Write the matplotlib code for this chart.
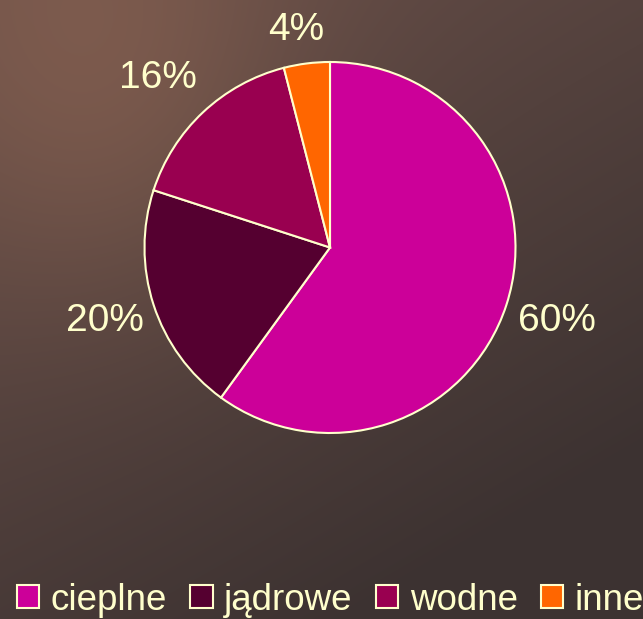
import numpy as np
import matplotlib.pyplot as plt
from matplotlib.colors import to_rgb

# udział źródeł energii elektrycznej
labels = ['cieplne', 'jądrowe', 'wodne', 'inne']
shares = [60, 20, 16, 4]
colors = ['#CC0099', '#550030', '#990050', '#FF6600']
pct_text = ['60%', '20%', '16%', '4%']

W, H = 643, 619
fig = plt.figure(figsize=(W / 100, H / 100), dpi=100)

# tło - ciemnobrązowy gradient z cieplejszą plamą w lewym górnym rogu
bg = fig.add_axes([0, 0, 1, 1], zorder=0)
yy, xx = np.mgrid[0:H, 0:W]
t = np.clip((xx / W * 0.45 + yy / H * 0.75), 0, 1)[..., None]
c0 = np.array(to_rgb('#6a5049'))
c1 = np.array(to_rgb('#3c3231'))
img = c0 * (1 - t) + c1 * t
blob = np.exp(-(((xx - 90) / 190.0) ** 2 + ((yy - 40) / 240.0) ** 2))[..., None]
img = img * (1 - 0.7 * blob) + np.array(to_rgb('#866050')) * 0.7 * blob
bg.imshow(img, extent=[0, W, H, 0], aspect='auto')
bg.axis('off')

# wykres kołowy
cx, cy, r = 330, 247.5, 185.5
ax = fig.add_axes([(cx - r) / W, 1 - (cy + r) / H, 2 * r / W, 2 * r / H], zorder=1)
wedges, _ = ax.pie(shares, colors=colors, startangle=90, counterclock=False,
                   wedgeprops=dict(edgecolor='#FFFFCC', linewidth=1.5))
ax.set_xlim(-1, 1)
ax.set_ylim(-1, 1)
ax.axis('off')

txt_kw = dict(color='#FFFFCC', fontsize=28, family='Liberation Sans')
label_pos = [(557, 321), (105, 321), (158, 78), (296, 30)]
for (px, py), s in zip(label_pos, pct_text):
    fig.text(px / W, 1 - py / H, s, ha='center', va='center', **txt_kw)

leg = fig.legend(wedges, labels, loc='center left', ncol=4, frameon=False,
                 bbox_to_anchor=(17 / W, 1 - 600 / H),
                 prop=dict(family='Liberation Sans', size=26.5),
                 labelcolor='#FFFFCC', handlelength=0.6, handleheight=0.6,
                 handletextpad=0.32, columnspacing=0.63, borderpad=0,
                 borderaxespad=0)

fig.savefig('out.png', dpi=100)
